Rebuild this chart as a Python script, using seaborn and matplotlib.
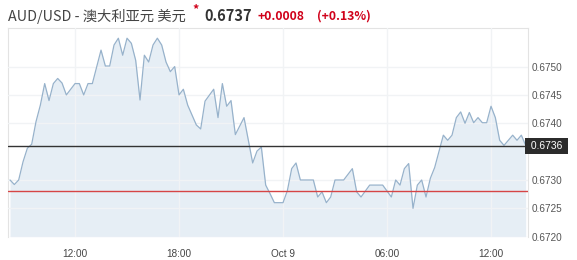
import matplotlib
matplotlib.use("Agg")
import matplotlib.pyplot as plt
import matplotlib.dates as mdates
import matplotlib.transforms as mtrans
import seaborn as sns
import pandas as pd

# ---------------- data ----------------
times = [
    "2019-10-08 08:15", "2019-10-08 08:30", "2019-10-08 08:45", "2019-10-08 09:00",
    "2019-10-08 09:15", "2019-10-08 09:30", "2019-10-08 09:45", "2019-10-08 10:00",
    "2019-10-08 10:15", "2019-10-08 10:30", "2019-10-08 10:45", "2019-10-08 11:00",
    "2019-10-08 11:15", "2019-10-08 11:30", "2019-10-08 12:00", "2019-10-08 12:15",
    "2019-10-08 12:30", "2019-10-08 12:45", "2019-10-08 13:00", "2019-10-08 13:30",
    "2019-10-08 13:45", "2019-10-08 14:00", "2019-10-08 14:15", "2019-10-08 14:30",
    "2019-10-08 14:45", "2019-10-08 15:00", "2019-10-08 15:15", "2019-10-08 15:30",
    "2019-10-08 15:45", "2019-10-08 16:00", "2019-10-08 16:15", "2019-10-08 16:30",
    "2019-10-08 16:45", "2019-10-08 17:00", "2019-10-08 17:15", "2019-10-08 17:30",
    "2019-10-08 17:45", "2019-10-08 18:00", "2019-10-08 18:15", "2019-10-08 18:30",
    "2019-10-08 19:00", "2019-10-08 19:15", "2019-10-08 19:30", "2019-10-08 20:00",
    "2019-10-08 20:15", "2019-10-08 20:30", "2019-10-08 20:45", "2019-10-08 21:00",
    "2019-10-08 21:15", "2019-10-08 21:45", "2019-10-08 22:15", "2019-10-08 22:30",
    "2019-10-08 22:45", "2019-10-08 23:00", "2019-10-08 23:15", "2019-10-08 23:30",
    "2019-10-09 00:00", "2019-10-09 00:15", "2019-10-09 00:30", "2019-10-09 00:45",
    "2019-10-09 01:00", "2019-10-09 01:45", "2019-10-09 02:00", "2019-10-09 02:15",
    "2019-10-09 02:30", "2019-10-09 02:45", "2019-10-09 03:00", "2019-10-09 03:30",
    "2019-10-09 04:00", "2019-10-09 04:15", "2019-10-09 04:30", "2019-10-09 05:00",
    "2019-10-09 05:45", "2019-10-09 06:15", "2019-10-09 06:30", "2019-10-09 06:45",
    "2019-10-09 07:00", "2019-10-09 07:15", "2019-10-09 07:30", "2019-10-09 07:45",
    "2019-10-09 08:00", "2019-10-09 08:15", "2019-10-09 08:30", "2019-10-09 08:45",
    "2019-10-09 09:15", "2019-10-09 09:30", "2019-10-09 09:45", "2019-10-09 10:00",
    "2019-10-09 10:15", "2019-10-09 10:30", "2019-10-09 10:45", "2019-10-09 11:00",
    "2019-10-09 11:15", "2019-10-09 11:30", "2019-10-09 11:45", "2019-10-09 12:00",
    "2019-10-09 12:15", "2019-10-09 12:30", "2019-10-09 12:45", "2019-10-09 13:00",
    "2019-10-09 13:15", "2019-10-09 13:30", "2019-10-09 13:45", "2019-10-09 14:00",
]
prices = [
    0.67300, 0.67292, 0.67300, 0.67332, 0.67356, 0.67363, 0.67403, 0.67432,
    0.67470, 0.67440, 0.67470, 0.67479, 0.67471, 0.67450, 0.67470, 0.67470,
    0.67450, 0.67470, 0.67470, 0.67529, 0.67501, 0.67501, 0.67538, 0.67550,
    0.67520, 0.67550, 0.67541, 0.67511, 0.67441, 0.67520, 0.67508, 0.67538,
    0.67550, 0.67538, 0.67508, 0.67491, 0.67500, 0.67450, 0.67460, 0.67432,
    0.67397, 0.67390, 0.67439, 0.67460, 0.67410, 0.67470, 0.67430, 0.67440,
    0.67380, 0.67410, 0.67330, 0.67351, 0.67358, 0.67291, 0.67276, 0.67260,
    0.67260, 0.67281, 0.67320, 0.67330, 0.67300, 0.67300, 0.67270, 0.67279,
    0.67260, 0.67270, 0.67300, 0.67300, 0.67320, 0.67279, 0.67270, 0.67291,
    0.67291, 0.67270, 0.67300, 0.67291, 0.67320, 0.67329, 0.67250, 0.67291,
    0.67300, 0.67270, 0.67303, 0.67322, 0.67379, 0.67370, 0.67379, 0.67410,
    0.67420, 0.67400, 0.67419, 0.67401, 0.67410, 0.67401, 0.67401, 0.67430,
    0.67410, 0.67370, 0.67361, 0.67370, 0.67379, 0.67370, 0.67379, 0.67361,
]
last_price = 0.6736
prev_close = 0.6728
x_tick_times = ["2019-10-08 12:00", "2019-10-08 18:00", "2019-10-09 00:00",
                "2019-10-09 06:00", "2019-10-09 12:00"]
x_tick_labels = ["12:00", "18:00", "Oct 9", "06:00", "12:00"]
y_ticks = [0.6720, 0.6725, 0.6730, 0.6740, 0.6745, 0.6750]
y_tick_labels = ["0.6720", "0.6725", "0.6730", "0.6740", "0.6745", "0.6750"]
x_range = ["2019-10-08 08:08", "2019-10-09 14:07"]
y_range = [0.6720, 0.67568]

title_main = "AUD/USD - 澳大利亚元 美元"
title_star = "*"
title_price = "0.6737"
title_change = "+0.0008"
title_pct = "(+0.13%)"

# ---------------- plot ----------------
sns.set_style("white")
plt.rcParams["font.family"] = ["Liberation Sans", "DejaVu Sans"]

df = pd.DataFrame({"time": pd.to_datetime(times), "price": prices})

fig = plt.figure(figsize=(5.77, 2.60), dpi=100)
ax = fig.add_axes([8 / 577, 1 - 236.7 / 260, (527.7 - 8) / 577, (236.7 - 28) / 260])

line_col = "#97b2cb"
fill_col = "#e6eef5"

ax.fill_between(df["time"], df["price"], y_range[0], color=fill_col, zorder=1, lw=0)
sns.lineplot(data=df, x="time", y="price", ax=ax, color=line_col, lw=0.9, zorder=4)

ax.axhline(last_price, color="#333333", lw=1.0, zorder=5)
ax.axhline(prev_close, color="#d64545", lw=1.0, zorder=5)

ax.set_xlim(pd.to_datetime(x_range[0]), pd.to_datetime(x_range[1]))
ax.set_ylim(*y_range)

ax.set_xticks(pd.to_datetime(x_tick_times))
ax.set_xticklabels(x_tick_labels)
ax.set_yticks(y_ticks)
ax.set_yticklabels(y_tick_labels)
ax.yaxis.tick_right()
ax.tick_params(axis="y", length=0, pad=3, labelsize=7.2, labelcolor="#555555")
ax.tick_params(axis="x", length=0, pad=9, labelsize=7.2, labelcolor="#444444")
ax.set_xlabel("")
ax.set_ylabel("")

ax.grid(True, color="#f1f3f5", lw=1.0, zorder=2)
ax.set_axisbelow(False)
for gl in ax.get_xgridlines() + ax.get_ygridlines():
    gl.set_zorder(2)

for side in ["left", "top", "right"]:
    ax.spines[side].set_color("#e3e3e3")
    ax.spines[side].set_linewidth(0.8)
ax.spines["bottom"].set_visible(False)

# last price label box
trans = mtrans.blended_transform_factory(ax.transAxes, ax.transData)
ax.text(1.0, last_price, " %.4f " % last_price, transform=trans, ha="left", va="center",
        fontsize=7.4, color="white", zorder=10, clip_on=False,
        bbox=dict(boxstyle="square,pad=0.25", fc="#2b2b2b", ec="none"))

# title row
cjk = ["Noto Sans CJK SC", "DejaVu Sans"]
fig.text(8 / 577, 1 - 16 / 260, title_main, ha="left", va="center",
         fontsize=10.3, color="#444444", family=cjk)
fig.text(192 / 577, 1 - 10 / 260, title_star, ha="left", va="center",
         fontsize=9, color="#d0021b", fontweight="bold", family=cjk)
fig.text(204 / 577, 1 - 16 / 260, title_price, ha="left", va="center",
         fontsize=10.5, color="#333333", fontweight="bold", family=cjk)
fig.text(258 / 577, 1 - 16 / 260, title_change, ha="left", va="center",
         fontsize=8.8, color="#d0021b", fontweight="bold", family=cjk)
fig.text(317 / 577, 1 - 16 / 260, title_pct, ha="left", va="center",
         fontsize=8.8, color="#d0021b", fontweight="bold", family=cjk)

fig.savefig("out.png", dpi=100)
